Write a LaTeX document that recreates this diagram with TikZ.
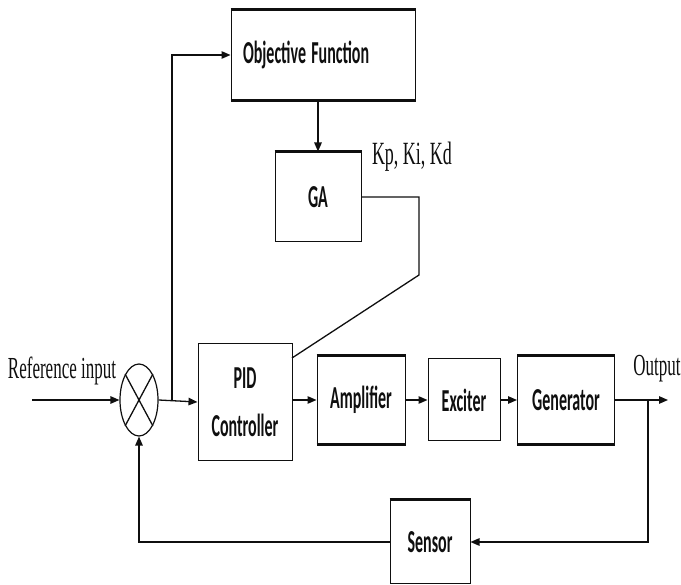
\documentclass[tikz,border=0pt]{standalone}
\usepackage{fontspec}
\setmainfont{Liberation Serif}
\setsansfont{Carlito}
\usetikzlibrary{arrows.meta,shapes.geometric}
\definecolor{CtlInk}{gray}{0.06}
\newcommand{\tallsans}[1]{\scalebox{1}[2.0]{\sffamily\bfseries #1}}
\newcommand{\tallserif}[1]{\scalebox{1}[1.8]{#1}}
\tikzset{
    ctl/diagram/.style={
        x=1pt, y=-1pt,
        draw=CtlInk,
        text=CtlInk,
        line join=miter
    },
    ctl/block/.style={
        rectangle, draw=CtlInk, line width=1pt, inner sep=0pt,
        align=center, font=\fontsize{16}{18}\selectfont
    },
    ctl/rim/.style={draw=CtlInk, line width=2.6pt},
    ctl/wire/.style={draw=CtlInk, line width=1.3pt},
    ctl/signal/.style={
        draw=CtlInk, line width=1.3pt,
        -{Triangle[length=9pt, width=7.5pt]}
    },
    ctl/sum/.style={
        ellipse, draw=CtlInk, line width=1.2pt, inner sep=0pt,
        minimum width=38pt, minimum height=72pt
    },
    ctl/label/.style={inner sep=0pt, font=\fontsize{17}{19}\selectfont}
}
\begin{document}
\begin{tikzpicture}[ctl/diagram]
    \useasboundingbox (0,0) rectangle (681,585);
    \node[ctl/block, minimum width=184pt, minimum height=90pt,
          text width=160pt, inner xsep=12pt, align=left]
        (obj) at (323,55) {\tallsans{Objective Function}\\[4pt]};
    \node[ctl/block, minimum width=86pt, minimum height=90pt]
        (ga) at (318,197) {\tallsans{GA}};
    \node[ctl/block, minimum width=94pt, minimum height=117pt]
        (pid) at (245,402) {\tallsans{PID}\\[25pt]\tallsans{Controller}};
    \node[ctl/block, minimum width=88pt, minimum height=88pt]
        (amp) at (361,400) {\tallsans{Amplifier}};
    \node[ctl/block, minimum width=72pt, minimum height=82pt]
        (exc) at (464,400) {\tallsans{Exciter}};
    \node[ctl/block, minimum width=97pt, minimum height=88pt]
        (gen) at (566,400) {\tallsans{Generator}};
    \node[ctl/block, minimum width=80pt, minimum height=84pt]
        (sensor) at (430,542) {\tallsans{Sensor}};
    \node[ctl/sum] (sum) at (139,400) {};
    \draw[ctl/wire] (sum.north west) -- (sum.south east)
                    (sum.north east) -- (sum.south west);
    % heavy rims
    \foreach \p/\q in {obj.north west/obj.north east, obj.south west/obj.south east,
                       ga.north west/ga.north east, amp.north west/amp.north east,
                       amp.south west/amp.south east, gen.north west/gen.north east,
                       gen.south west/gen.south east, sensor.north west/sensor.north east}
        \draw[ctl/rim] (\p) -- (\q);
    \node[ctl/label] (ref) at (62,371) {\tallserif{Reference input}};
    \node[ctl/label] (out) at (657,369) {\tallserif{Output}};
    \node[ctl/label, font=\fontsize{18}{20}\selectfont]
        (gains) at (412,157) {\tallserif{Kp, Ki, Kd}};
    \coordinate (refin) at (32,400);
    \coordinate (tap) at (172,400);
    \coordinate (bend) at (419,275);
    \coordinate (pidin) at (292,358);
    \coordinate (pick) at (648,400);
    \coordinate (outend) at (668,400);
    \draw[ctl/signal] (refin) -- (sum.west);
    \draw[ctl/signal] (sum.east) -- (pid.west);
    \draw[ctl/signal] (tap) |- (obj.west);
    \draw[ctl/signal] (obj.south -| ga.north) -- (ga.north);
    \draw[ctl/wire] (ga.east) -| (bend) -- (pidin);
    \draw[ctl/signal] (pid.east |- amp.west) -- (amp.west);
    \draw[ctl/signal] (amp.east) -- (exc.west);
    \draw[ctl/signal] (exc.east) -- (gen.west);
    \draw[ctl/signal] (gen.east) -- (outend);
    \draw[ctl/signal] (pick) |- (sensor.east);
    \draw[ctl/signal] (sensor.west) -| (sum.south);
\end{tikzpicture}
\end{document}
